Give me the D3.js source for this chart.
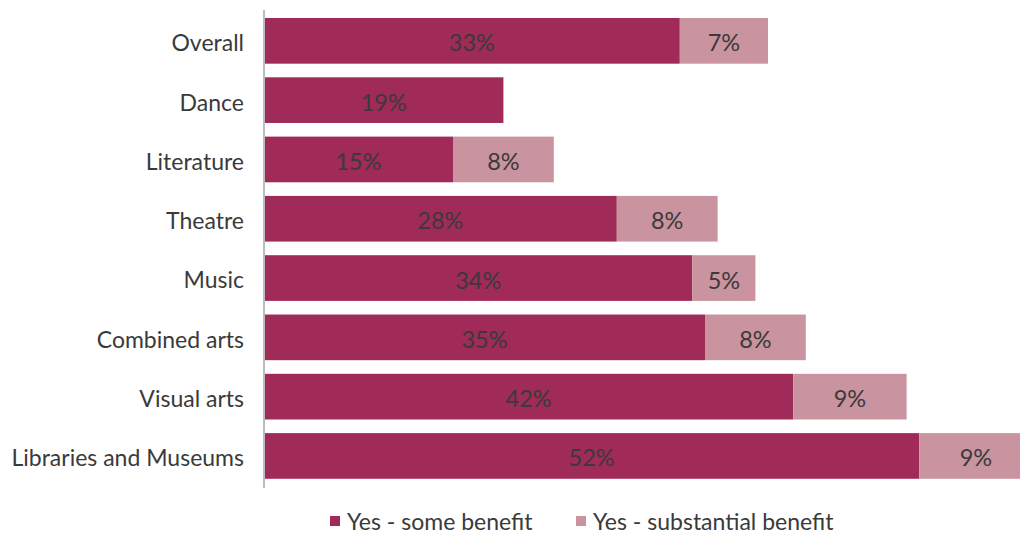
<!DOCTYPE html>
<html>
<head>
<meta charset="utf-8">
<script src="https://cdn.jsdelivr.net/npm/d3@7"></script>
<style>
  html, body { margin: 0; padding: 0; background: #fff; overflow: hidden; }
  svg { display: block; font-family: Lato, "Open Sans", sans-serif; font-weight: 400; }
</style>
</head>
<body>
<svg id="chart" width="1020" height="535"></svg>
<script>
// Share of respondents reporting a benefit, by art form
const categories = ["Overall", "Dance", "Literature", "Theatre", "Music", "Combined arts", "Visual arts", "Libraries and Museums"];
const someBenefit = [33, 19, 15, 28, 34, 35, 42, 52];
const substantialBenefit = [7, 0, 8, 8, 5, 8, 9, 9];
const seriesNames = ["Yes - some benefit", "Yes - substantial benefit"];
const seriesColors = ["#a02a58", "#c9939f"];

const svg = d3.select("#chart");
const textColor = "#3a3a3a";

const x = d3.scaleLinear().domain([0, 60]).range([264, 1020]);
const y = d3.scaleBand()
  .domain(categories)
  .range([10.3, 486.5])
  .paddingInner(0.23)
  .paddingOuter(0.13);

const rows = categories.map((c, i) => ({ cat: c, vals: [someBenefit[i], substantialBenefit[i]] }));
const stack = d3.stack().keys([0, 1]).value((d, k) => d.vals[k]);
const layers = stack(rows);

const g = svg.append("g");

layers.forEach((layer, k) => {
  const segs = layer.filter(d => d[1] - d[0] > 0);
  const grp = g.append("g");
  grp.selectAll("rect")
    .data(segs)
    .join("rect")
    .attr("x", d => x(d[0]))
    .attr("y", d => y(d.data.cat))
    .attr("width", d => x(d[1]) - x(d[0]))
    .attr("height", y.bandwidth())
    .attr("fill", seriesColors[k]);

  grp.selectAll("text")
    .data(segs)
    .join("text")
    .attr("x", d => (x(d[0]) + x(d[1])) / 2)
    .attr("y", d => y(d.data.cat) + y.bandwidth() / 2 + 2)
    .attr("dy", "0.36em")
    .attr("text-anchor", "middle")
    .attr("fill", textColor)
    .style("font-size", "23.5px")
    .text(d => (d[1] - d[0]) + "%");
});

// category axis
const yAxis = d3.axisLeft(y).tickSize(0).tickPadding(20);
const ax = svg.append("g").attr("transform", `translate(${x(0)},0)`).call(yAxis);
ax.select(".domain").attr("stroke", "#bbb").attr("stroke-width", 2)
  .attr("d", "M0,10V488");
ax.selectAll("text")
  .attr("fill", textColor)
  .attr("dy", "0.45em")
  .style("font-size", "23px")
  .style("font-family", "Lato, 'Open Sans', sans-serif")
  .style("font-weight", 400);

// legend
const legendX = [330, 576];
const legend = svg.append("g");
seriesNames.forEach((name, k) => {
  legend.append("rect")
    .attr("x", legendX[k]).attr("y", 516)
    .attr("width", 10).attr("height", 10)
    .attr("fill", seriesColors[k]);
  legend.append("text")
    .attr("x", legendX[k] + 17).attr("y", 522)
    .attr("dy", "0.36em")
    .attr("fill", textColor)
    .style("font-size", "23px")
    .text(name);
});
</script>
</body>
</html>
